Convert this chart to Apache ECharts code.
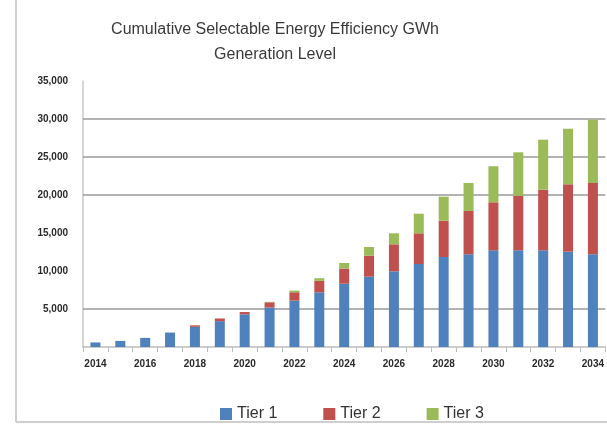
<!DOCTYPE html>
<html>
<head>
<meta charset="utf-8">
<script src="https://cdn.jsdelivr.net/npm/echarts@6/dist/echarts.min.js"></script>
<style>
  html, body { margin: 0; padding: 0; background: #fff; }
  #chart { width: 607px; height: 424px; }
</style>
</head>
<body>
<div id="chart"></div>
<script>
// Years on the category axis
const years = ['2014','2015','2016','2017','2018','2019','2020','2021','2022','2023','2024',
               '2025','2026','2027','2028','2029','2030','2031','2032','2033','2034'];

// Cumulative GWh by tier
const tier1 = [600, 800, 1200, 1900, 2650, 3400, 4300, 5200, 6100, 7200, 8330,
               9250, 9960, 10920, 11840, 12200, 12720, 12720, 12720, 12540, 12200];
const tier2 = [0, 0, 0, 0, 200, 350, 300, 680, 1100, 1500, 2000,
               2770, 3550, 4040, 4780, 5700, 6320, 7190, 7980, 8870, 9380];
const tier3 = [0, 0, 0, 0, 0, 0, 0, 60, 220, 350, 720,
               1140, 1450, 2580, 3160, 3680, 4740, 5710, 6580, 7310, 8330];

// Horizontal reference lines
const gridValues = [5000, 20000, 25000, 30000];

const seriesNames = ['Tier 1', 'Tier 2', 'Tier 3'];
const seriesColors = ['#4F81BD', '#C0504D', '#9BBB59'];
const seriesData = [tier1, tier2, tier3];

const fmt = v => v === 0 ? '' : String(v).replace(/\B(?=(\d{3})+(?!\d))/g, ',');

const chart = echarts.init(document.getElementById('chart'), null, { renderer: 'canvas' });

const series = seriesData.map((d, i) => ({
  name: seriesNames[i],
  type: 'bar',
  stack: 'total',
  data: d,
  barWidth: 10,
  itemStyle: { color: seriesColors[i] },
  z: 3
}));

series[0].markLine = {
  silent: true,
  symbol: 'none',
  label: { show: false },
  lineStyle: { color: '#9a9a9a', width: 1.5, type: 'solid' },
  z: 1,
  data: gridValues.map(v => ({ yAxis: v }))
};

chart.setOption({
  animation: false,
  backgroundColor: '#ffffff',
  title: {
    text: 'Cumulative Selectable Energy Efficiency GWh\nGeneration Level',
    left: 270,
    top: 12,
    textAlign: 'center',
    textStyle: {
      fontFamily: 'Liberation Sans',
      fontSize: 16,
      fontWeight: 'normal',
      color: '#3a3a3a',
      lineHeight: 25
    }
  },
  legend: {
    left: 215,
    top: 401,
    itemWidth: 12,
    itemHeight: 12,
    itemGap: 46,
    icon: 'rect',
    textStyle: { fontFamily: 'Liberation Sans', fontSize: 16, color: '#333' },
    data: seriesNames
  },
  grid: { left: 83, right: 0, top: 81, bottom: 77, containLabel: false },
  xAxis: {
    type: 'category',
    data: years,
    axisLine: { lineStyle: { color: '#bdbdbd', width: 1.5 } },
    axisTick: { show: true, interval: 0, length: 5, lineStyle: { color: '#bdbdbd' } },
    axisLabel: {
      interval: 1,
      margin: 12,
      fontFamily: 'Liberation Sans',
      fontSize: 10,
      fontWeight: 'bold',
      color: '#2a2a2a'
    }
  },
  yAxis: {
    type: 'value',
    min: 0,
    max: 35000,
    interval: 5000,
    axisLine: { show: true, lineStyle: { color: '#c8c8c8', width: 1.5 } },
    axisTick: { show: false },
    splitLine: { show: false },
    axisLabel: {
      margin: 15,
      fontFamily: 'Liberation Sans',
      fontSize: 10,
      fontWeight: 'bold',
      color: '#2a2a2a',
      formatter: fmt
    }
  },
  graphic: [
    { type: 'line', shape: { x1: 16, y1: 0, x2: 16, y2: 422 }, style: { stroke: '#cfcfcf', lineWidth: 2 } },
    { type: 'line', shape: { x1: 16, y1: 422, x2: 607, y2: 422 }, style: { stroke: '#cfcfcf', lineWidth: 2 } }
  ],
  series: series
});
</script>
</body>
</html>
